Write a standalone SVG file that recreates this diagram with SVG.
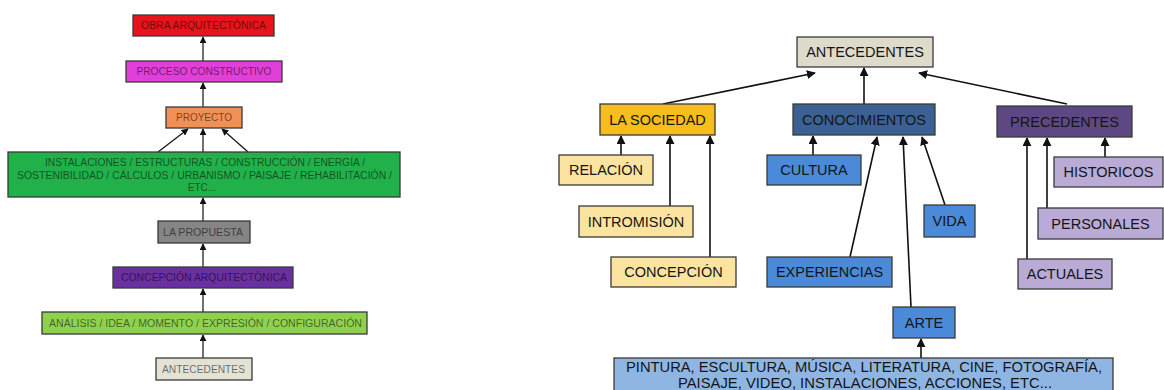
<svg xmlns="http://www.w3.org/2000/svg" width="1164" height="390" viewBox="0 0 1164 390">
<style>
.b{stroke:#3a3a3a;stroke-width:1.3}
.lt{font-family:"Liberation Sans",Arial,sans-serif;font-size:10px;fill:#000;fill-opacity:0.55;text-anchor:middle}
.rt{font-family:"Liberation Sans",Arial,sans-serif;font-size:14.5px;fill:#151515;text-anchor:middle}
.c{stroke:#111;stroke-width:1.6;fill:none}
.cs{stroke:#111;stroke-width:1.2;fill:none}
</style>
<defs>
<marker id="ah" viewBox="0 0 10 10" refX="9" refY="5" markerWidth="9" markerHeight="9" markerUnits="userSpaceOnUse" orient="auto"><path d="M0,0 L10,5 L0,10 z" fill="#111"/></marker>
<marker id="ahs" viewBox="0 0 10 10" refX="9" refY="5" markerWidth="7" markerHeight="7" markerUnits="userSpaceOnUse" orient="auto"><path d="M0,0 L10,5 L0,10 z" fill="#111"/></marker>
</defs>
<rect width="1164" height="390" fill="#fff"/>
<g id="connectors">
<line class="cs" x1="203" y1="61" x2="203" y2="37" marker-end="url(#ahs)"/>
<line class="cs" x1="203" y1="107" x2="203" y2="83" marker-end="url(#ahs)"/>
<line class="cs" x1="158" y1="152" x2="188" y2="129" marker-end="url(#ahs)"/>
<line class="cs" x1="203" y1="152" x2="203" y2="129" marker-end="url(#ahs)"/>
<line class="cs" x1="248" y1="152" x2="222" y2="129" marker-end="url(#ahs)"/>
<line class="cs" x1="203" y1="221" x2="203" y2="198" marker-end="url(#ahs)"/>
<line class="cs" x1="203" y1="267" x2="203" y2="244" marker-end="url(#ahs)"/>
<line class="cs" x1="203" y1="312" x2="203" y2="289" marker-end="url(#ahs)"/>
<line class="cs" x1="203" y1="358" x2="203" y2="335" marker-end="url(#ahs)"/>
<line class="c" x1="663" y1="104" x2="815" y2="73" marker-end="url(#ah)"/>
<line class="c" x1="864" y1="104" x2="864" y2="68" marker-end="url(#ah)"/>
<line class="c" x1="1067" y1="104" x2="919" y2="73" marker-end="url(#ah)"/>
<line class="c" x1="621" y1="155" x2="621" y2="136" marker-end="url(#ah)"/>
<line class="c" x1="670" y1="206" x2="670" y2="136" marker-end="url(#ah)"/>
<line class="c" x1="710" y1="257" x2="710" y2="136" marker-end="url(#ah)"/>
<line class="c" x1="813" y1="155" x2="813" y2="136" marker-end="url(#ah)"/>
<line class="c" x1="850" y1="257" x2="877" y2="137" marker-end="url(#ah)"/>
<line class="c" x1="911" y1="307" x2="903" y2="137" marker-end="url(#ah)"/>
<line class="c" x1="945" y1="205" x2="922" y2="137" marker-end="url(#ah)"/>
<line class="c" x1="921" y1="358" x2="921" y2="339" marker-end="url(#ah)"/>
<line class="c" x1="1027" y1="259" x2="1027" y2="138" marker-end="url(#ah)"/>
<line class="c" x1="1047" y1="208" x2="1047" y2="138" marker-end="url(#ah)"/>
<line class="c" x1="1105" y1="157" x2="1105" y2="138" marker-end="url(#ah)"/>
</g>
<g id="l-obra"><rect class="b" x="133" y="15" width="141" height="21" fill="#e8141c"/><text class="lt" x="203.5" y="29" textLength="125" lengthAdjust="spacingAndGlyphs">OBRA ARQUITECTÓNICA</text></g>
<g id="l-proceso"><rect class="b" x="126" y="61" width="156" height="21" fill="#e040d8"/><text class="lt" x="204" y="75" textLength="135" lengthAdjust="spacingAndGlyphs">PROCESO CONSTRUCTIVO</text></g>
<g id="l-proyecto"><rect class="b" x="166" y="107" width="76" height="21" fill="#f09055"/><text class="lt" x="204" y="121" textLength="56" lengthAdjust="spacingAndGlyphs">PROYECTO</text></g>
<g id="l-disciplinas"><rect class="b" x="8" y="152" width="392" height="45" fill="#22b04a"/>
<text class="lt" x="205" y="165.5" textLength="320" lengthAdjust="spacingAndGlyphs">INSTALACIONES / ESTRUCTURAS / CONSTRUCCIÓN / ENERGÍA /</text>
<text class="lt" x="204.5" y="178.5" textLength="375" lengthAdjust="spacingAndGlyphs">SOSTENIBILIDAD / CÁLCULOS / URBANISMO / PAISAJE / REHABILITACIÓN /</text>
<text class="lt" x="202" y="191">ETC...</text></g>
<g id="l-propuesta"><rect class="b" x="158" y="221" width="92" height="22" fill="#858585"/><text class="lt" x="203" y="235.5" textLength="80" lengthAdjust="spacingAndGlyphs">LA PROPUESTA</text></g>
<g id="l-concepcion"><rect class="b" x="113" y="267" width="180" height="21" fill="#6a2fa0"/><text class="lt" x="204" y="281" textLength="166" lengthAdjust="spacingAndGlyphs">CONCEPCIÓN ARQUITECTÓNICA</text></g>
<g id="l-analisis"><rect class="b" x="42" y="312" width="325" height="22" fill="#8fd14f"/><text class="lt" x="205.5" y="326.5" textLength="313" lengthAdjust="spacingAndGlyphs">ANÁLISIS / IDEA / MOMENTO / EXPRESIÓN / CONFIGURACIÓN</text></g>
<g id="l-antecedentes"><rect class="b" x="156" y="358" width="96" height="22" fill="#e4e2d4"/><text class="lt" x="203.5" y="372.5" textLength="83" lengthAdjust="spacingAndGlyphs">ANTECEDENTES</text></g>

<g id="r-antecedentes"><rect class="b" x="797" y="37" width="136" height="30" fill="#dedbcb"/><text class="rt" x="865" y="57">ANTECEDENTES</text></g>
<g id="r-sociedad"><rect class="b" x="600" y="104" width="115" height="31" fill="#f7bd1b"/><text class="rt" x="657.5" y="125">LA SOCIEDAD</text></g>
<g id="r-conocimientos"><rect class="b" x="793" y="104" width="142" height="31" fill="#3b6194"/><text class="rt" x="864" y="125" fill="#10203a">CONOCIMIENTOS</text></g>
<g id="r-precedentes"><rect class="b" x="997" y="106" width="135" height="31" fill="#5e4883"/><text class="rt" x="1064.5" y="127">PRECEDENTES</text></g>
<g id="r-relacion"><rect class="b" x="559" y="155" width="94" height="30" fill="#fbe3a0"/><text class="rt" x="606" y="175">RELACIÓN</text></g>
<g id="r-intromision"><rect class="b" x="579" y="206" width="114" height="31" fill="#fbe3a0"/><text class="rt" x="636" y="227">INTROMISIÓN</text></g>
<g id="r-concepcion"><rect class="b" x="611" y="257" width="125" height="30" fill="#fbe3a0"/><text class="rt" x="673.5" y="277">CONCEPCIÓN</text></g>
<g id="r-cultura"><rect class="b" x="767" y="155" width="94" height="30" fill="#4a8ad8"/><text class="rt" x="814" y="175">CULTURA</text></g>
<g id="r-experiencias"><rect class="b" x="767" y="257" width="125" height="30" fill="#4a8ad8"/><text class="rt" x="829.5" y="277">EXPERIENCIAS</text></g>
<g id="r-vida"><rect class="b" x="924" y="205" width="51" height="32" fill="#4a8ad8"/><text class="rt" x="949.5" y="226">VIDA</text></g>
<g id="r-arte"><rect class="b" x="893" y="307" width="62" height="31" fill="#4a8ad8"/><text class="rt" x="924" y="328">ARTE</text></g>
<g id="r-artes"><rect class="b" x="614" y="358" width="499" height="36" fill="#8fb5e3"/>
<text class="rt" x="864" y="372" textLength="476" lengthAdjust="spacingAndGlyphs">PINTURA, ESCULTURA, MÚSICA, LITERATURA, CINE, FOTOGRAFÍA,</text>
<text class="rt" x="865" y="388" textLength="374" lengthAdjust="spacingAndGlyphs">PAISAJE, VIDEO, INSTALACIONES, ACCIONES, ETC...</text></g>
<g id="r-historicos"><rect class="b" x="1054" y="157" width="109" height="30" fill="#b9aad6"/><text class="rt" x="1108.5" y="177">HISTORICOS</text></g>
<g id="r-personales"><rect class="b" x="1038" y="208" width="125" height="31" fill="#b9aad6"/><text class="rt" x="1100.5" y="229">PERSONALES</text></g>
<g id="r-actuales"><rect class="b" x="1018" y="259" width="94" height="30" fill="#b9aad6"/><text class="rt" x="1065" y="279">ACTUALES</text></g>
</svg>
